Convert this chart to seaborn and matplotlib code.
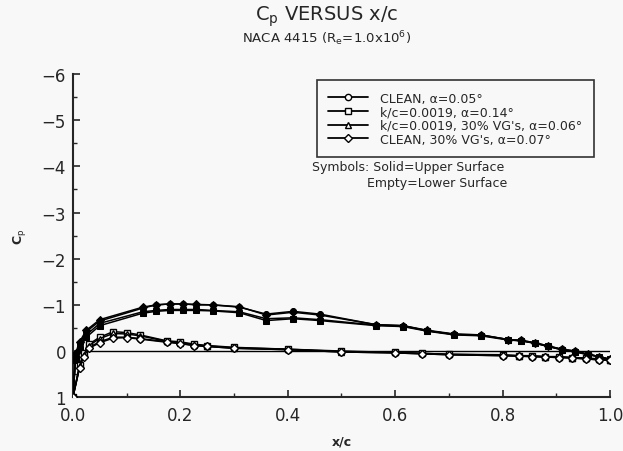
import matplotlib
matplotlib.use("Agg")
import matplotlib.pyplot as plt
from matplotlib.lines import Line2D
from matplotlib.ticker import MultipleLocator
import seaborn as sns
import pandas as pd

# ---- data ----
x_upper = [0.0, 0.005, 0.0125, 0.025, 0.05, 0.13, 0.155, 0.18, 0.205, 0.23, 0.26, 0.31,
           0.36, 0.41, 0.46, 0.565, 0.615, 0.66, 0.71, 0.76, 0.81, 0.835, 0.86, 0.885,
           0.91, 0.935, 0.96, 0.98, 1.0]
cp_upper_clean = [1.0, 0.1, -0.15, -0.42, -0.65, -0.93, -1.0, -1.02, -1.02, -1.0, -1.0, -0.95,
                  -0.8, -0.86, -0.8, -0.57, -0.55, -0.44, -0.36, -0.35, -0.25, -0.23, -0.18,
                  -0.11, -0.04, 0.0, 0.07, 0.12, 0.18]
cp_upper_rough = [1.0, 0.2, -0.05, -0.3, -0.55, -0.82, -0.86, -0.88, -0.88, -0.88, -0.87, -0.83,
                  -0.66, -0.7, -0.66, -0.55, -0.53, -0.43, -0.35, -0.33, -0.24, -0.22, -0.17,
                  -0.1, -0.03, 0.02, 0.08, 0.12, 0.18]
cp_upper_rough_vg = [1.0, 0.15, -0.1, -0.35, -0.6, -0.85, -0.88, -0.9, -0.9, -0.9, -0.88, -0.85,
                     -0.7, -0.72, -0.68, -0.56, -0.54, -0.44, -0.36, -0.34, -0.25, -0.22, -0.17,
                     -0.1, -0.03, 0.01, 0.08, 0.12, 0.19]
cp_upper_clean_vg = [1.0, 0.05, -0.2, -0.45, -0.68, -0.95, -1.0, -1.02, -1.02, -1.01, -1.0, -0.96,
                     -0.78, -0.84, -0.78, -0.57, -0.55, -0.45, -0.37, -0.35, -0.25, -0.23, -0.18,
                     -0.11, -0.04, 0.0, 0.07, 0.12, 0.18]

x_lower = [0.0, 0.0125, 0.02, 0.03, 0.05, 0.075, 0.1, 0.125, 0.175, 0.2, 0.225, 0.25, 0.3,
           0.4, 0.5, 0.6, 0.65, 0.7, 0.8, 0.83, 0.855, 0.88, 0.905, 0.93, 0.955, 0.98, 1.0]
cp_lower_clean = [1.0, 0.35, 0.1, -0.08, -0.2, -0.3, -0.3, -0.27, -0.2, -0.17, -0.12, -0.1, -0.06,
                  -0.03, 0.02, 0.04, 0.06, 0.08, 0.1, 0.11, 0.12, 0.13, 0.14, 0.15, 0.17, 0.19, 0.2]
cp_lower_rough = [1.0, 0.3, 0.05, -0.15, -0.3, -0.42, -0.4, -0.35, -0.22, -0.2, -0.15, -0.12, -0.08,
                  -0.04, 0.0, 0.03, 0.05, 0.07, 0.08, 0.1, 0.1, 0.12, 0.12, 0.14, 0.15, 0.17, 0.2]
cp_lower_rough_vg = [1.0, 0.32, 0.08, -0.12, -0.27, -0.38, -0.37, -0.33, -0.21, -0.18, -0.14, -0.11,
                     -0.07, -0.04, 0.01, 0.03, 0.05, 0.07, 0.09, 0.1, 0.11, 0.12, 0.13, 0.14, 0.16, 0.18, 0.2]
cp_lower_clean_vg = [1.0, 0.36, 0.12, -0.06, -0.18, -0.28, -0.29, -0.26, -0.19, -0.16, -0.12, -0.1,
                     -0.06, -0.03, 0.02, 0.04, 0.06, 0.08, 0.1, 0.11, 0.12, 0.13, 0.14, 0.15, 0.17, 0.19, 0.2]

series_labels = ["CLEAN, \u03b1=0.05\u00b0", "k/c=0.0019, \u03b1=0.14\u00b0",
                 "k/c=0.0019, 30% VG's, \u03b1=0.06\u00b0", "CLEAN, 30% VG's, \u03b1=0.07\u00b0"]
series_markers = ["o", "s", "^", "D"]
upper_sets = [cp_upper_clean, cp_upper_rough, cp_upper_rough_vg, cp_upper_clean_vg]
lower_sets = [cp_lower_clean, cp_lower_rough, cp_lower_rough_vg, cp_lower_clean_vg]

# ---- figure ----
sns.set_style("ticks")
plt.rcParams['font.family'] = ['DejaVu Sans']
bg = "#f8f8f8"
fig = plt.figure(figsize=(6.23, 4.52), dpi=100, facecolor=bg)
ax = fig.add_axes([0.117, 0.119, 0.862, 0.715])
ax.set_facecolor(bg)

ax.axhline(0, color="black", lw=1.0, xmin=0.02, xmax=1.0, zorder=1)

for lab, mk, up, lo in zip(series_labels, series_markers, upper_sets, lower_sets):
    ms = 4.3 if mk != "^" else 4.8
    du = pd.DataFrame({"x": x_upper, "cp": up})
    dl = pd.DataFrame({"x": x_lower, "cp": lo})
    sns.lineplot(data=du, x="x", y="cp", ax=ax, color="black", lw=1.1, marker=mk,
                 markersize=ms, markerfacecolor="black", markeredgecolor="black",
                 sort=False, estimator=None, zorder=3)
    sns.lineplot(data=dl, x="x", y="cp", ax=ax, color="black", lw=1.1, marker=mk,
                 markersize=ms, markerfacecolor="white", markeredgecolor="black",
                 markeredgewidth=1.0, sort=False, estimator=None, zorder=3)

ax.set_xlim(0, 1.0)
ax.set_ylim(1, -6)
ax.xaxis.set_minor_locator(MultipleLocator(0.1))
ax.yaxis.set_minor_locator(MultipleLocator(0.5))
ax.set_xticks([0, 0.2, 0.4, 0.6, 0.8, 1.0])
ax.set_xticklabels(["0.0", "0.2", "0.4", "0.6", "0.8", "1.0"])
ax.set_yticks([-6, -5, -4, -3, -2, -1, 0, 1])
ax.set_yticklabels(["\u22126", "\u22125", "\u22124", "\u22123", "\u22122", "\u22121", "0", "1"])
ax.tick_params(axis="both", which="major", direction="in", length=5, width=1.2,
               labelsize=12)
ax.tick_params(axis="x", which="major", pad=6)
ax.tick_params(axis="y", which="major", pad=5)
ax.tick_params(axis="both", which="minor", direction="in", length=3, width=1.0)
for s in ["top", "right"]:
    ax.spines[s].set_visible(False)
for s in ["left", "bottom"]:
    ax.spines[s].set_linewidth(1.5)

ax.set_xlabel("x/c", fontsize=9, fontweight="bold", labelpad=8)
ax.set_ylabel("C$_\\mathrm{p}$", fontsize=9, fontweight="bold", labelpad=10)

handles = [Line2D([], [], color="black", lw=1.3, marker=m, markersize=4.5,
                  markerfacecolor="white", markeredgecolor="black") for m in series_markers]
leg = ax.legend(handles, series_labels, loc="upper right", bbox_to_anchor=(0.97, 0.98),
                fontsize=9, frameon=True, fancybox=False, handlelength=3.2,
                borderpad=0.9, labelspacing=0.05, handletextpad=1.0, borderaxespad=0)
leg.get_frame().set_edgecolor("black")
leg.get_frame().set_linewidth(1.2)
leg.get_frame().set_facecolor(bg)

ax.text(0.445, 0.715, "Symbols: Solid=Upper Surface", transform=ax.transAxes,
        fontsize=9, va="center", ha="left")
ax.text(0.548, 0.664, "Empty=Lower Surface", transform=ax.transAxes,
        fontsize=9, va="center", ha="left")

fig.text(0.525, 0.962, "C$_\\mathrm{p}$ VERSUS x/c", fontsize=14, ha="center", va="center")
fig.text(0.525, 0.914, "NACA 4415 (R$_\\mathrm{e}$=1.0x10$^6$)", fontsize=9.5,
         ha="center", va="center")

fig.savefig("out.png", dpi=100, facecolor=bg)
